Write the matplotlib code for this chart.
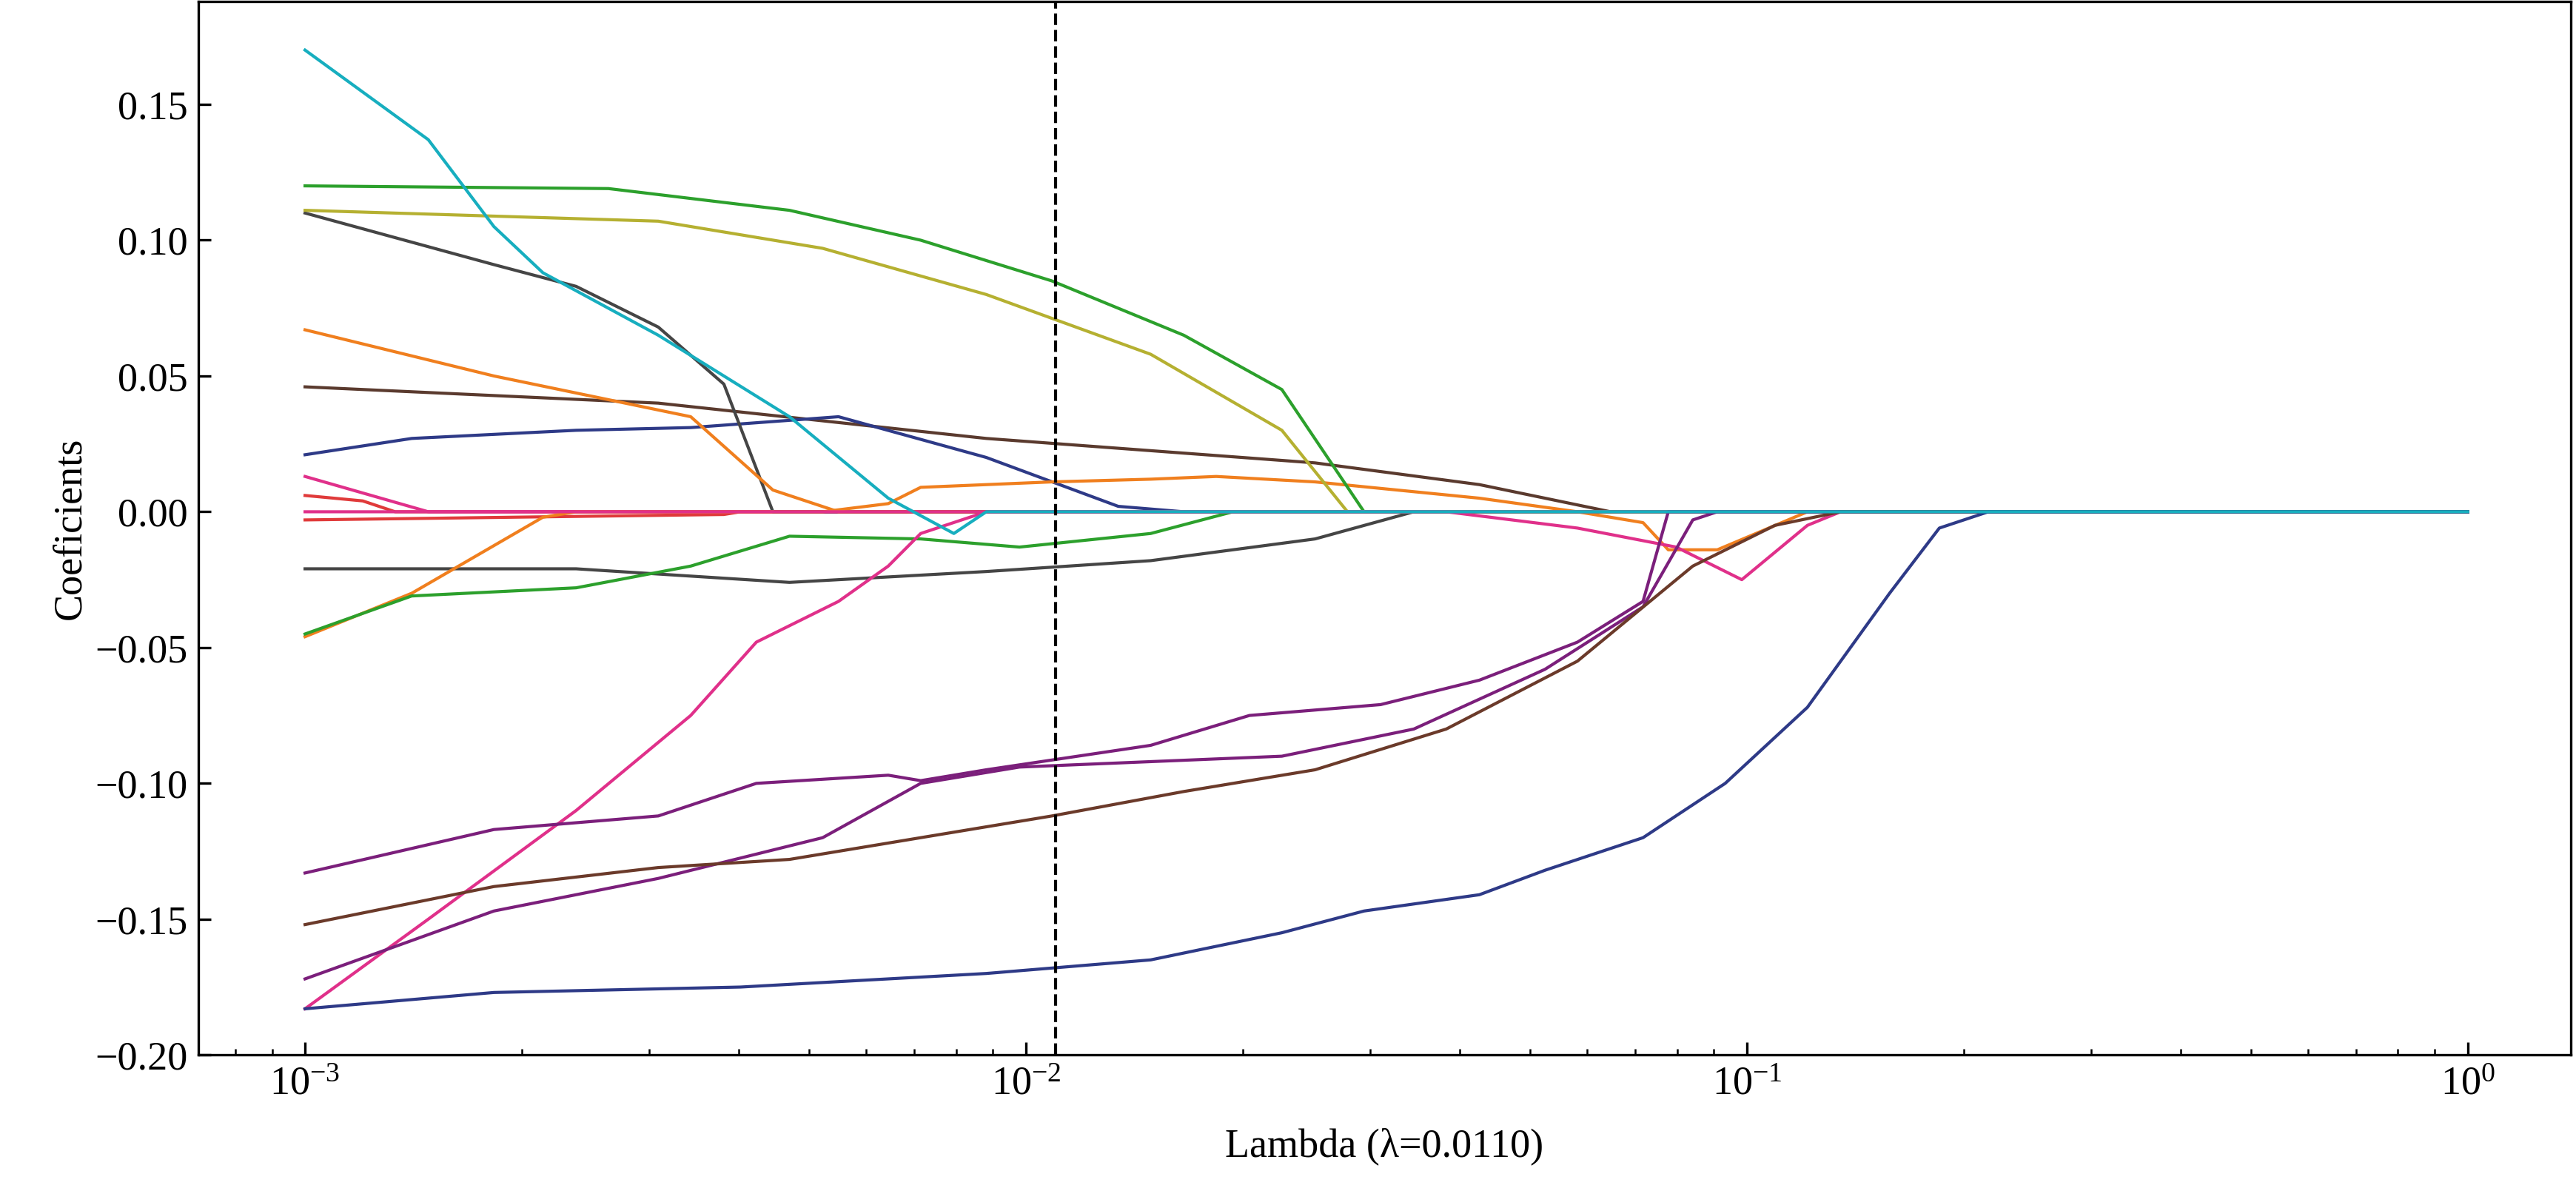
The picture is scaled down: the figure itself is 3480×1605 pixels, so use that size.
import matplotlib.pyplot as plt
import numpy as np

plt.rcParams['font.family'] = ['Liberation Serif', 'DejaVu Serif']

# coefficient paths: log10(lambda) knots and coefficient values
paths = [
    ('#5a3a2e', [-3, -2.51, -2.055, -1.599, -1.371, -1.189], [0.046, 0.040, 0.027, 0.018, 0.010, 0.0]),
    ('#e03a3a', [-3, -2.92, -2.875], [0.006, 0.004, 0.0]),
    ('#e03a3a', [-3, -2.419, -2.396], [-0.003, -0.001, 0.0]),
    ('#e0308a', [-3, -2.829], [0.013, 0.0]),
    ('#2e3a87', [-3, -2.852, -2.624, -2.465, -2.26, -2.055, -1.872, -1.781],
     [0.021, 0.027, 0.030, 0.031, 0.035, 0.020, 0.002, 0.0]),
    ('#454545', [-3, -2.738, -2.624, -2.51, -2.419, -2.351],
     [0.110, 0.091, 0.083, 0.068, 0.047, 0.0]),
    ('#454545', [-3, -2.624, -2.328, -2.055, -1.827, -1.599, -1.462],
     [-0.021, -0.021, -0.026, -0.022, -0.018, -0.010, 0.0]),
    ('#f07f1e', [-3, -2.738, -2.465, -2.351, -2.26], [0.067, 0.050, 0.035, 0.008, 0.0]),
    ('#f07f1e', [-3, -2.852, -2.67, -2.624, -2.282, -2.191, -2.146, -1.964, -1.827, -1.736,
                 -1.599, -1.371, -1.235, -1.144, -1.109, -1.041, -0.916],
     [-0.046, -0.030, -0.002, 0.0, 0.0, 0.003, 0.009, 0.011, 0.012, 0.013,
      0.011, 0.005, 0.0, -0.004, -0.014, -0.014, 0.0]),
    ('#2ca02c', [-3, -2.852, -2.624, -2.465, -2.328, -2.146, -2.009, -1.827, -1.713],
     [-0.045, -0.031, -0.028, -0.020, -0.009, -0.010, -0.013, -0.008, 0.0]),
    ('#2ca02c', [-3, -2.579, -2.328, -2.146, -1.964, -1.781, -1.645, -1.531],
     [0.120, 0.119, 0.111, 0.100, 0.085, 0.065, 0.045, 0.0]),
    ('#b5b031', [-3, -2.51, -2.282, -2.055, -1.827, -1.645, -1.554],
     [0.111, 0.107, 0.097, 0.080, 0.058, 0.030, 0.0]),
    ('#e0308a', [-3, -2.829, -2.624, -2.465, -2.374, -2.26, -2.191, -2.146, -2.055],
     [-0.183, -0.150, -0.110, -0.075, -0.048, -0.033, -0.020, -0.008, 0.0]),
    ('#e0308a', [-3, -1.417, -1.235, -1.098, -1.007, -0.916, -0.870],
     [0.0, 0.0, -0.006, -0.013, -0.025, -0.005, 0.0]),
    ('#7b1f7b', [-3, -2.738, -2.51, -2.374, -2.191, -2.146, -2.055, -1.827, -1.69, -1.508,
                 -1.371, -1.235, -1.144, -1.109],
     [-0.133, -0.117, -0.112, -0.100, -0.097, -0.099, -0.095, -0.086, -0.075, -0.071,
      -0.062, -0.048, -0.033, 0.0]),
    ('#7b1f7b', [-3, -2.738, -2.51, -2.282, -2.146, -2.009, -1.827, -1.645, -1.462, -1.28,
                 -1.144, -1.075, -1.041],
     [-0.172, -0.147, -0.135, -0.120, -0.100, -0.094, -0.092, -0.090, -0.080, -0.058,
      -0.035, -0.003, 0.0]),
    ('#6b3a2a', [-3, -2.738, -2.51, -2.328, -2.146, -1.964, -1.781, -1.599, -1.417, -1.235,
                 -1.075, -0.961, -0.870],
     [-0.152, -0.138, -0.131, -0.128, -0.120, -0.112, -0.103, -0.095, -0.080, -0.055,
      -0.020, -0.005, 0.0]),
    ('#2e3a87', [-3, -2.738, -2.396, -2.055, -1.827, -1.645, -1.531, -1.371, -1.28, -1.144,
                 -1.03, -0.916, -0.802, -0.733, -0.665],
     [-0.183, -0.177, -0.175, -0.170, -0.165, -0.155, -0.147, -0.141, -0.132, -0.120,
      -0.100, -0.072, -0.030, -0.006, 0.0]),
    ('#17aebf', [-3, -2.829, -2.738, -2.67, -2.51, -2.328, -2.191, -2.1, -2.055],
     [0.170, 0.137, 0.105, 0.088, 0.065, 0.035, 0.005, -0.008, 0.0]),
]
best_lambda = 0.0110

fig, ax = plt.subplots(figsize=(11.6, 5.35), dpi=300)
for color, lx, ly in paths:
    lx = list(lx) + [0.0]
    ly = list(ly) + [0.0]
    ax.plot(10 ** np.array(lx), ly, color=color, lw=1.0)

ax.axvline(best_lambda, color='black', ls='--', lw=1.0)
ax.set_xscale('log')
ax.set_xlim(10 ** -3.148, 10 ** 0.143)
ax.set_ylim(-0.20, 0.188)
ax.set_yticks(np.arange(-0.20, 0.151, 0.05))
ax.tick_params(direction='in', labelsize=13, which='both')
ax.tick_params(which='major', length=4)
ax.set_xlabel('Lambda (\u03bb=0.0110)', fontsize=13, labelpad=8)
ax.set_ylabel('Coeficients', fontsize=13, labelpad=2)
fig.subplots_adjust(left=0.077, right=0.998, top=0.999, bottom=0.112)
fig.savefig('out.png')
